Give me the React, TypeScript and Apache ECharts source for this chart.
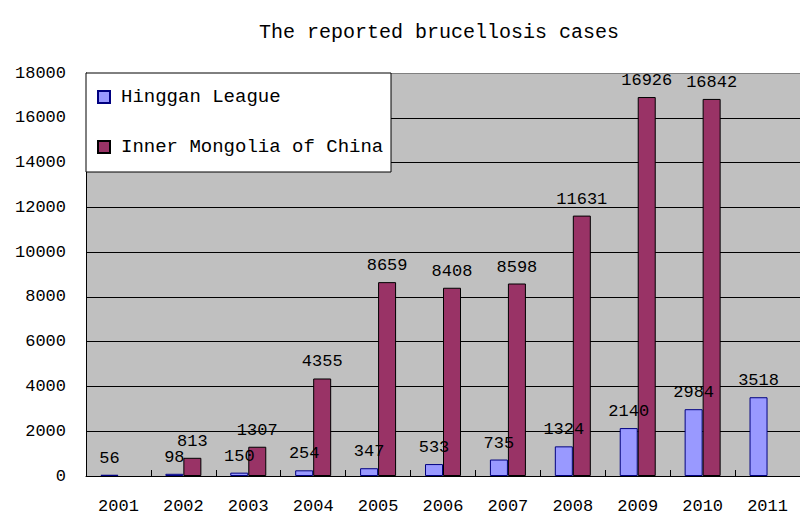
import React, { useEffect, useRef } from "react";
import * as echarts from "echarts";

const years = ["2001", "2002", "2003", "2004", "2005", "2006", "2007", "2008", "2009", "2010", "2011"];
const hinggan = [56, 98, 150, 254, 347, 533, 735, 1324, 2140, 2984, 3518];
const innerMongolia = [null, 813, 1307, 4355, 8659, 8408, 8598, 11631, 16926, 16842, null];
const seriesNames = ["Hinggan League", "Inner Mongolia of China"];
const titleText = "The reported brucellosis cases";

const FONT = "'Liberation Mono', 'DejaVu Sans Mono', monospace";

export default function App() {
  const ref = useRef<HTMLDivElement>(null);
  useEffect(() => {
    if (!ref.current) return;
    const chart = echarts.init(ref.current, undefined, { renderer: "svg" });
    const splitColors = ["#000", "#000", "#000", "#000", "#000", "#000", "#000", "#000", "#000", "#808080"];
    chart.setOption({
      animation: false,
      backgroundColor: "#ffffff",
      title: {
        text: titleText,
        left: 434,
        top: 17,
        textAlign: "center",
        textStyle: { fontFamily: FONT, fontSize: 20, fontWeight: "normal", color: "#000" },
      },
      graphic: [
        {
          type: "rect",
          z: 3,
          shape: { x: 86, y: 73, width: 305, height: 99 },
          style: { fill: "#ffffff", stroke: "#000000", lineWidth: 1 },
        },
      ],
      legend: {
        orient: "vertical",
        left: 97,
        top: 85,
        z: 10,
        padding: 0,
        itemGap: 26,
        itemWidth: 12,
        itemHeight: 12,
        icon: "rect",
        data: seriesNames,
        textStyle: { fontFamily: FONT, fontSize: 19, color: "#000", lineHeight: 24, padding: [0, 0, 0, 6] },
      },
      grid: {
        left: 86,
        top: 73,
        right: -12,
        bottom: 41,
        show: true,
        backgroundColor: "#c0c0c0",
        borderWidth: 0,
      },
      xAxis: {
        type: "category",
        data: years,
        axisLine: { show: true, lineStyle: { color: "#000", width: 1 } },
        axisTick: { show: true, inside: true, length: 6, alignWithLabel: false, lineStyle: { color: "#000" } },
        axisLabel: { margin: 22, fontFamily: FONT, fontSize: 17, color: "#000" },
      },
      yAxis: {
        type: "value",
        min: 0,
        max: 18000,
        interval: 2000,
        axisLine: { show: true, lineStyle: { color: "#000", width: 1 } },
        axisTick: { show: false },
        axisLabel: {
          margin: 20,
          fontFamily: FONT,
          fontSize: 17,
          color: "#000",
          formatter: (v: number) => String(v),
        },
        splitLine: { show: true, lineStyle: { color: splitColors, width: 1 } },
      },
      series: [
        {
          name: seriesNames[0],
          type: "bar",
          data: hinggan,
          barWidth: 18,
          barGap: "0%",
          itemStyle: { color: "#9999ff", borderColor: "#000080", borderWidth: 1 },
          label: { show: true, position: "top", distance: 8, fontFamily: FONT, fontSize: 17, color: "#000" },
        },
        {
          name: seriesNames[1],
          type: "bar",
          data: innerMongolia,
          barWidth: 18,
          barGap: "0%",
          itemStyle: { color: "#993366", borderColor: "#000000", borderWidth: 1 },
          label: { show: true, position: "top", distance: 8, fontFamily: FONT, fontSize: 17, color: "#000" },
        },
      ],
    });
    return () => chart.dispose();
  }, []);
  return <div ref={ref} style={{ position: "fixed", left: 0, top: 0, width: 800, height: 517 }} />;
}
